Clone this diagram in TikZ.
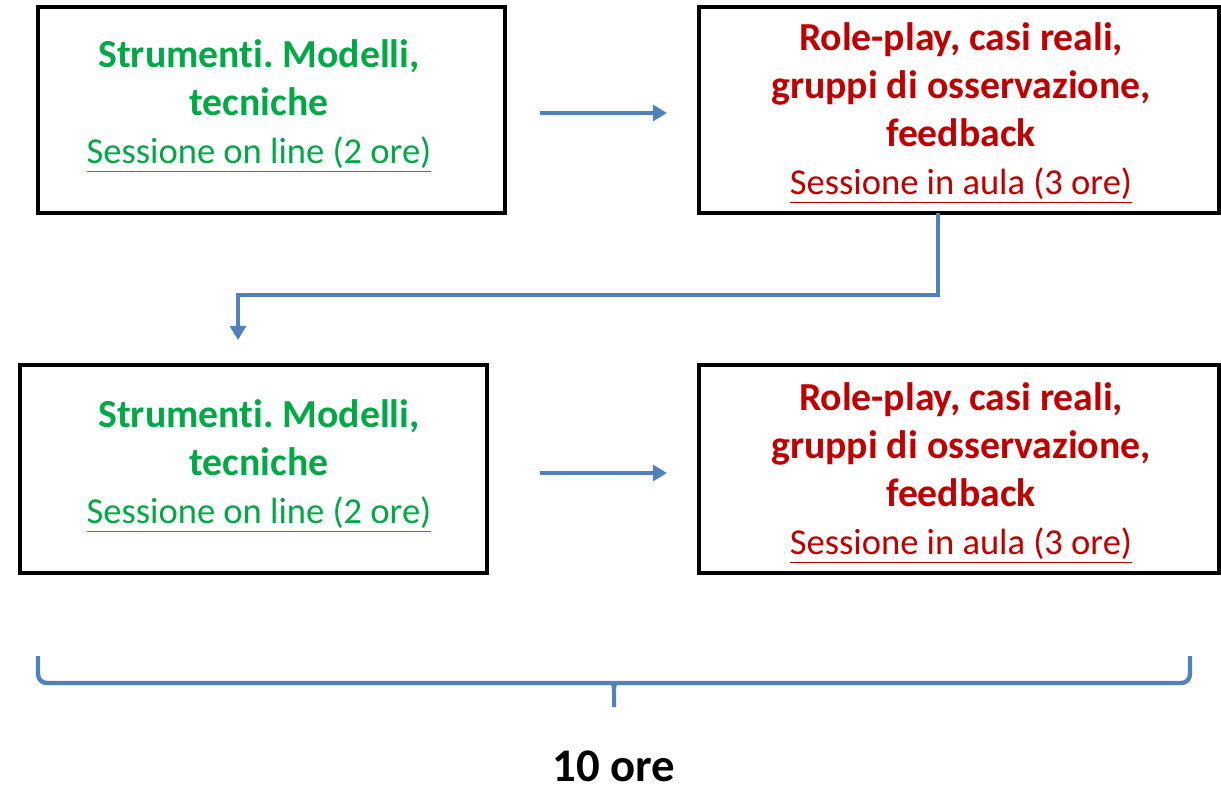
\documentclass[tikz,border=0pt]{standalone}
\usepackage{fontspec}
\setmainfont{Carlito}[Ligatures=NoCommon]
\usetikzlibrary{calc,arrows.meta}
\definecolor{tgreen}{RGB}{0,168,70}
\definecolor{tred}{RGB}{192,0,0}
\definecolor{tblue}{RGB}{79,129,189}
\frenchspacing
\tikzset{
  frame/.style={draw=black, line width=1.8pt},
  lbl/.style={align=center, inner sep=0pt, font=\fontsize{22.6}{27.3}\selectfont\bfseries},
  arr/.style={draw=tblue, line width=2.3pt, -{Triangle[length=8pt,width=9pt]}},
  brace/.style={draw=tblue, line width=2.5pt, rounded corners=5pt},
}
\newcommand{\sub}[1]{{\fontsize{20.8}{27.3}\selectfont\mdseries\underline{#1}}}
\begin{document}
\begin{tikzpicture}[x=0.02cm,y=-0.02cm]
\useasboundingbox (0,0) rectangle (1221,788);
% boxes
\draw[frame] (38,7) rectangle (505,213) node[pos=0.5,inner sep=0pt] (b1) {};
\draw[frame] (699,7) rectangle (1219,213) node[pos=0.5,inner sep=0pt] (b2) {};
\draw[frame] (20,365) rectangle (487,573) node[pos=0.5,inner sep=0pt] (b3) {};
\draw[frame] (699,365) rectangle (1219,573) node[pos=0.5,inner sep=0pt] (b4) {};
% texts
\node[lbl, text=tgreen] (t1) at (259,106) {Strumenti. Modelli,\\ tecniche\\ \sub{Sessione on line (2 ore)}};
\node[lbl, text=tred] (t2) at (961,113) {Role-play, casi reali,\\ gruppi di osservazione,\\ feedback\\ \sub{Sessione in aula (3 ore)}};
\node[lbl, text=tgreen] (t3) at (259,466) {Strumenti. Modelli,\\ tecniche\\ \sub{Sessione on line (2 ore)}};
\node[lbl, text=tred] (t4) at (961,473) {Role-play, casi reali,\\ gruppi di osservazione,\\ feedback\\ \sub{Sessione in aula (3 ore)}};
% connector points
\coordinate (a1s) at (540,113);
\coordinate (a1e) at (667,113);
\coordinate (a2s) at (540,473);
\coordinate (a2e) at (667,473);
\coordinate (cs) at (938,213);
\coordinate (ce) at (238,340);
\draw[arr] (a1s) -- (a1e);
\draw[arr] (a2s) -- (a2e);
\draw[arr] (cs) -- (938,295) -| (ce);
% brace
\coordinate (bl) at (38,656);
\coordinate (br) at (1190,656);
\coordinate (bm) at (614,707);
\draw[brace] (bl) -- (38,683) -- (1190,683) -- (br);
\fill[tblue] (606,681) .. controls (612,683) and (612,686) .. (612,692) -- (612,707) -- (616,707) -- (616,692) .. controls (616,686) and (616,683) .. (622,681) -- cycle;
\node[inner sep=0pt] (tot) at (614,766) {\fontsize{26.6}{32}\selectfont\bfseries 10 ore};
\end{tikzpicture}
\end{document}
